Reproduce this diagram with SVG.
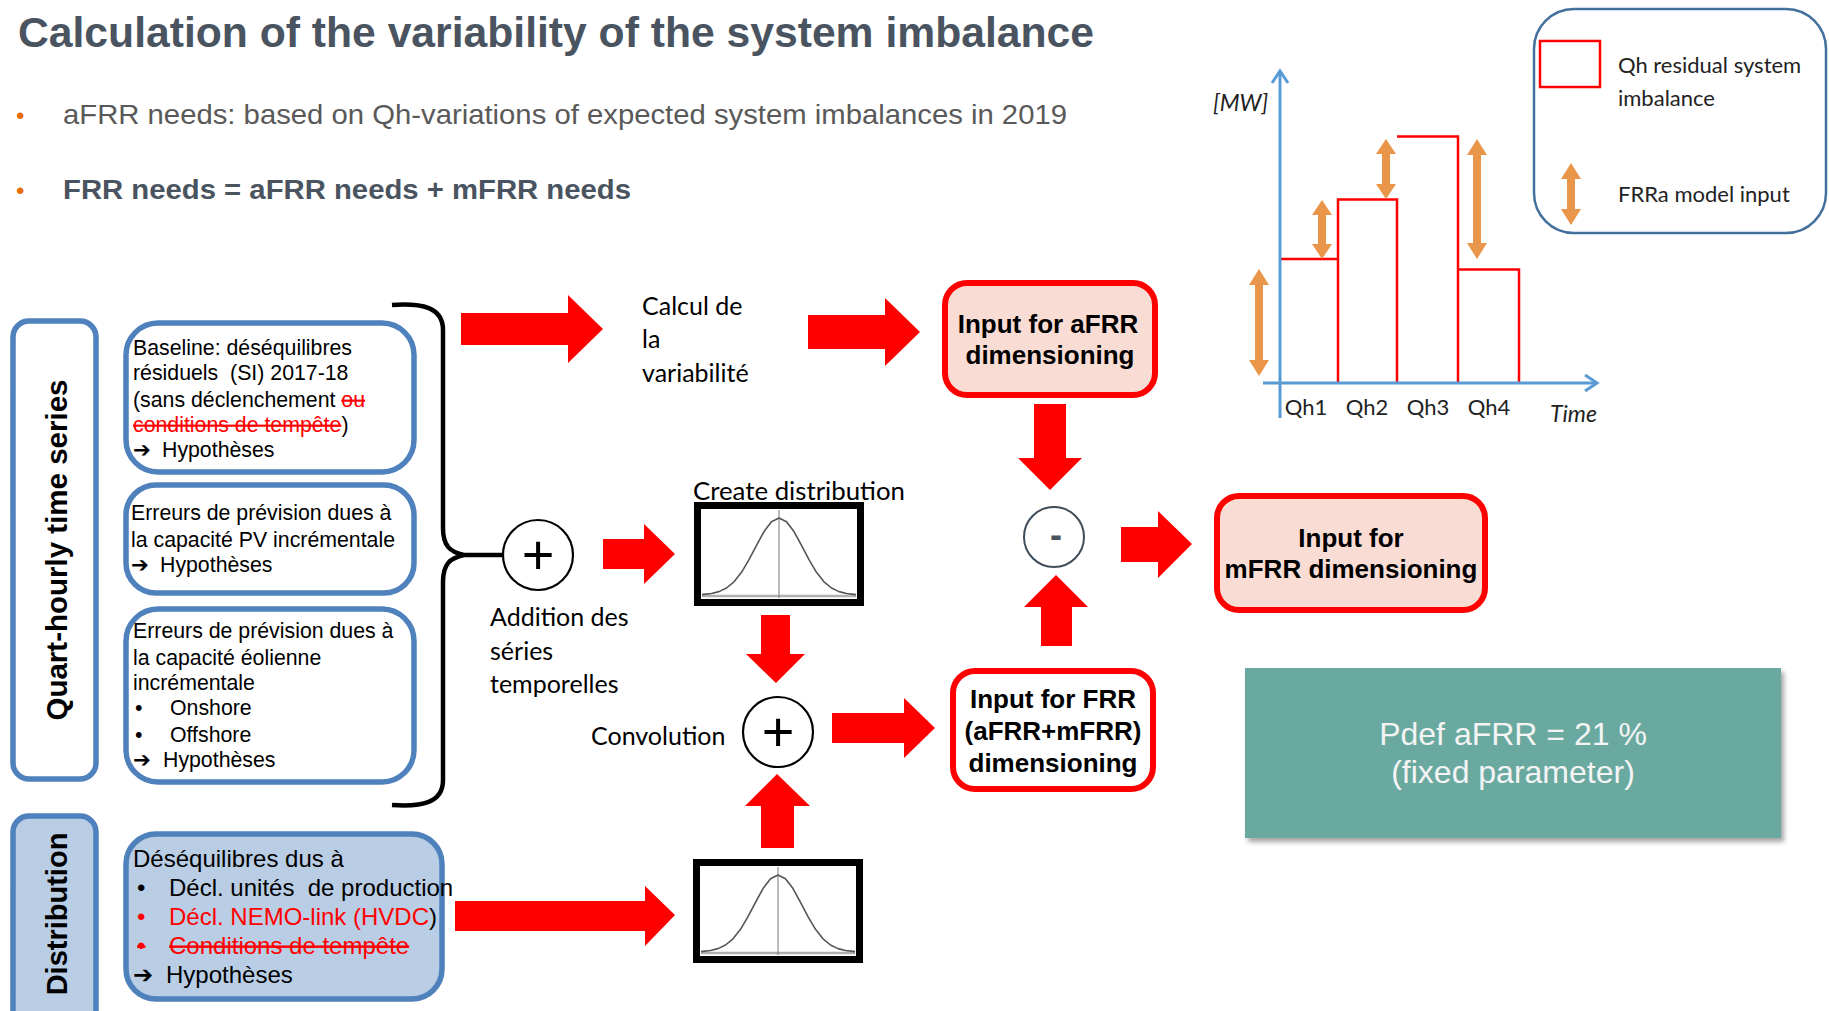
<svg xmlns="http://www.w3.org/2000/svg" width="1829" height="1011" viewBox="0 0 1829 1011">
<style>
.t{font-family:"Liberation Sans",Arial,sans-serif}
.c{font-family:Lato,"Open Sans",sans-serif}
.blue{fill:#fff;stroke:#4f81bd;stroke-width:5.5}
.lb{fill:#b9cde5;stroke:#4f81bd;stroke-width:5.5}
.redbox{stroke:#ff0000;stroke-width:6}
.arr{fill:#ff0000}
.ora{fill:#e9954a}
.strike{fill:#ff0000;text-decoration:line-through}
.bx{font-size:21.3px;fill:#000}
.ar{font-family:"DejaVu Sans",sans-serif;font-weight:bold}
.bb{font-size:26px;font-weight:bold;fill:#000;text-anchor:middle}
.cl{font-size:25px;fill:#000}
.ax{stroke:#5b9bd5;stroke-width:3;fill:none}
.lg{font-size:22px;fill:#222}
</style>
<defs>
<g id="bell">
<rect x="3.5" y="3.5" width="163" height="97" fill="#fff" stroke="#000" stroke-width="7"/>
<line x1="8" y1="94" x2="162" y2="94" stroke="#b0b0b0" stroke-width="2.5"/>
<line x1="85" y1="8" x2="85" y2="96" stroke="#777" stroke-width="1"/>
<polyline fill="none" stroke="#555" stroke-width="1.6" stroke-linejoin="round" points="8,92.6 10,92.4 17.5,91.5 25,89.6 32.5,86 40,79.8 47.5,70.3 55,57.7 62.5,43.4 70,29.6 77.5,19.7 85,16 92.5,19.7 100,29.6 107.5,43.4 115,57.7 122.5,70.3 130,79.8 137.5,86 145,89.6 152.5,91.5 160,92.4 162,92.6"/>
</g>
<filter id="sh" x="-5%" y="-5%" width="115%" height="120%">
<feDropShadow dx="3" dy="4" stdDeviation="2.5" flood-color="#000" flood-opacity="0.35"/>
</filter>
</defs>
<rect width="1829" height="1011" fill="#fff"/>

<g id="title">
<text class="t" x="18" y="47" font-size="42.5" font-weight="bold" fill="#4a5460" textLength="1076" lengthAdjust="spacingAndGlyphs">Calculation of the variability of the system imbalance</text>
</g>
<g id="bullets">
<text class="t" x="16" y="124" font-size="24" fill="#e46c0a">•</text>
<text class="t" x="63" y="124" font-size="27.5" fill="#595959" textLength="1004" lengthAdjust="spacingAndGlyphs">aFRR needs: based on Qh-variations of expected system imbalances in 2019</text>
<text class="t" x="16" y="199" font-size="24" fill="#e46c0a">•</text>
<text class="t" x="63" y="199" font-size="27.5" font-weight="bold" fill="#4a5460" textLength="568" lengthAdjust="spacingAndGlyphs">FRR needs = aFRR needs + mFRR needs</text>
</g>

<g id="qh-label">
<rect x="13" y="321" width="83" height="458" rx="16" class="blue"/>
<text class="t" transform="translate(67,550) rotate(-90)" font-size="29.5" font-weight="bold" text-anchor="middle" fill="#000">Quart-hourly time series</text>
</g>
<g id="dist-label">
<rect x="13" y="816" width="83" height="230" rx="16" class="lb"/>
<text class="t" transform="translate(67,914) rotate(-90)" font-size="29" font-weight="bold" text-anchor="middle" fill="#000">Distribution</text>
</g>

<g id="box-baseline">
<rect x="126" y="323" width="288" height="149" rx="32" class="blue"/>
<text class="t bx" x="133" y="355">Baseline: déséquilibres</text>
<text class="t bx" x="133" y="380" xml:space="preserve">résiduels  (SI) 2017-18</text>
<text class="t bx" x="133" y="407">(sans déclenchement <tspan class="strike">ou</tspan></text>
<text class="t bx" x="133" y="432"><tspan class="strike">conditions de tempête</tspan>)</text>
<text class="t bx" x="133" y="457"><tspan class="ar">➔</tspan><tspan x="162">Hypothèses</tspan></text>
</g>
<g id="box-pv">
<rect x="126" y="485" width="288" height="108" rx="30" class="blue"/>
<text class="t bx" x="131" y="520">Erreurs de prévision dues à</text>
<text class="t bx" x="131" y="547">la capacité PV incrémentale</text>
<text class="t bx" x="131" y="572"><tspan class="ar">➔</tspan><tspan x="160">Hypothèses</tspan></text>
</g>
<g id="box-wind">
<rect x="126" y="609" width="288" height="173" rx="32" class="blue"/>
<text class="t bx" x="133" y="638">Erreurs de prévision dues à</text>
<text class="t bx" x="133" y="665">la capacité éolienne</text>
<text class="t bx" x="133" y="690">incrémentale</text>
<text class="t bx" x="135" y="715">•<tspan x="170">Onshore</tspan></text>
<text class="t bx" x="135" y="742">•<tspan x="170">Offshore</tspan></text>
<text class="t bx" x="133" y="767"><tspan class="ar">➔</tspan><tspan x="163">Hypothèses</tspan></text>
</g>
<g id="box-dist">
<rect x="126" y="834" width="316" height="165" rx="30" class="lb"/>
<text class="t" x="133" y="867" font-size="24">Déséquilibres dus à</text>
<text class="t" x="137" y="896" font-size="24" xml:space="preserve">•<tspan x="169">Décl. unités  de production</tspan></text>
<text class="t" x="137" y="925" font-size="24" fill="#ff0000">•<tspan x="169">Décl. NEMO-link (HVDC</tspan><tspan fill="#000">)</tspan></text>
<text class="t" x="137" y="954" font-size="24" fill="#ff0000" text-decoration="line-through">•<tspan x="169">Conditions de tempête</tspan></text>
<text class="t" x="133" y="983" font-size="24"><tspan class="ar">➔</tspan><tspan x="166">Hypothèses</tspan></text>
</g>

<g id="connectors">
<path d="M392,305 C422,303 443,307 443,330 L443,528 C443,546 450,552 464,555 L502,555 M464,555 C450,558 443,564 443,582 L443,780 C443,803 422,807 392,805" fill="none" stroke="#000" stroke-width="4.5"/>
<polygon class="arr" points="461,313 568,313 568,295 603,329 568,363 568,345 461,345"/>
<polygon class="arr" points="808,315 885,315 885,298 920,332 885,366 885,349 808,349"/>
<polygon class="arr" points="1034,404 1066,404 1066,458 1082,458 1050,490 1018,458 1034,458"/>
<polygon class="arr" points="1121,527 1158,527 1158,511 1192,544 1158,578 1158,562 1121,562"/>
<polygon class="arr" points="1041,646 1041,607 1024,607 1056,575 1088,607 1072,607 1072,646"/>
<polygon class="arr" points="603,539 644,539 644,524 675,554 644,584 644,569 603,569"/>
<polygon class="arr" points="761,615 790,615 790,654 805,654 776,683 746,654 761,654"/>
<polygon class="arr" points="832,713 904,713 904,698 935,728 904,758 904,743 832,743"/>
<polygon class="arr" points="761,848 761,806 745,806 777,774 810,806 794,806 794,848"/>
<polygon class="arr" points="455,901 645,901 645,886 675,915 645,946 645,931 455,931"/>
</g>

<g id="calcul">
<text class="c cl" x="642" y="315">Calcul de</text>
<text class="c cl" x="642" y="348">la</text>
<text class="c cl" x="642" y="382">variabilité</text>
</g>
<g id="addition">
<circle cx="538" cy="555" r="35" fill="#fff" stroke="#000" stroke-width="2.2"/>
<text class="t" x="538" y="574" font-size="56" text-anchor="middle">+</text>
<text class="c cl" x="490" y="626">Addition des</text>
<text class="c cl" x="490" y="660">séries</text>
<text class="c cl" x="490" y="693">temporelles</text>
</g>
<g id="create-dist">
<text class="c cl" x="693" y="500" textLength="212" lengthAdjust="spacingAndGlyphs">Create distribution</text>
<use href="#bell" x="694" y="502"/>
</g>
<g id="convolution">
<circle cx="778" cy="732" r="35" fill="#fff" stroke="#000" stroke-width="2.2"/>
<text class="t" x="778" y="751" font-size="56" text-anchor="middle">+</text>
<text class="c cl" x="591" y="745">Convolution</text>
</g>
<g id="dist-bottom">
<use href="#bell" x="693" y="859"/>
</g>
<g id="input-afrr">
<rect x="945" y="283" width="210" height="112" rx="22" fill="#f9dcd3" class="redbox"/>
<text class="t bb" x="1048" y="333">Input for aFRR</text>
<text class="t bb" x="1050" y="364">dimensioning</text>
</g>
<g id="minus">
<circle cx="1054" cy="537" r="30" fill="#fff" stroke="#3f4d5a" stroke-width="2"/>
<text class="t" x="1056" y="547" font-size="36" font-weight="bold" text-anchor="middle" fill="#4a5460">-</text>
</g>
<g id="input-mfrr">
<rect x="1217" y="496" width="268" height="114" rx="22" fill="#f9dcd3" class="redbox"/>
<text class="t bb" x="1351" y="547">Input for</text>
<text class="t bb" x="1351" y="578">mFRR dimensioning</text>
</g>
<g id="input-frr">
<rect x="953" y="671" width="200" height="118" rx="22" fill="#fff" class="redbox"/>
<text class="t bb" x="1053" y="708">Input for FRR</text>
<text class="t bb" x="1053" y="740">(aFRR+mFRR)</text>
<text class="t bb" x="1053" y="772">dimensioning</text>
</g>
<g id="pdef">
<rect x="1245" y="668" width="536" height="170" fill="#6aa9a0" filter="url(#sh)"/>
<text class="t" x="1513" y="745" font-size="32" fill="#f4f4f4" text-anchor="middle">Pdef aFRR = 21 %</text>
<text class="t" x="1513" y="783" font-size="32" fill="#f4f4f4" text-anchor="middle">(fixed parameter)</text>
</g>

<g id="chart">
<path d="M1280,259 H1338 V383 M1338,383 V199.5 H1397 V383 M1397,136.5 H1458 V383 M1458,269.5 H1519 V383" fill="none" stroke="#ff0000" stroke-width="2.5"/>
<line class="ax" x1="1280" y1="71" x2="1280" y2="418"/>
<line class="ax" x1="1263" y1="383" x2="1597" y2="383"/>
<polyline class="ax" points="1272,83 1280,71 1288,83"/>
<polyline class="ax" points="1585,375 1597,383 1585,391"/>
<polygon class="ora" points="1259,269 1269,285 1263,285 1263,360 1269,360 1259,376 1249,360 1255,360 1255,285 1249,285"/>
<polygon class="ora" points="1322,200 1332,215 1326,215 1326,244 1332,244 1322,259 1312,244 1318,244 1318,215 1312,215"/>
<polygon class="ora" points="1386,139 1396,154 1390,154 1390,184 1396,184 1386,199 1376,184 1382,184 1382,154 1376,154"/>
<polygon class="ora" points="1477,139 1487,155 1481,155 1481,243 1487,243 1477,259 1467,243 1473,243 1473,155 1467,155"/>
<text class="c" x="1213" y="111" font-size="23" font-style="italic" fill="#222">[MW]</text>
<text class="c lg" x="1306" y="415" text-anchor="middle" font-size="21">Qh1</text>
<text class="c lg" x="1367" y="415" text-anchor="middle" font-size="21">Qh2</text>
<text class="c lg" x="1428" y="415" text-anchor="middle" font-size="21">Qh3</text>
<text class="c lg" x="1489" y="415" text-anchor="middle" font-size="21">Qh4</text>
<text class="c" x="1550" y="422" font-size="23" font-style="italic" fill="#222">Time</text>
</g>
<g id="legend">
<rect x="1534" y="9" width="292" height="224" rx="40" fill="#fff" stroke="#41719c" stroke-width="2.5"/>
<rect x="1540" y="41" width="60" height="46" fill="#fff" stroke="#ff0000" stroke-width="2.5"/>
<polygon class="ora" points="1571,163 1581,179 1575,179 1575,209 1581,209 1571,225 1561,209 1567,209 1567,179 1561,179"/>
<text class="c lg" x="1618" y="73">Qh residual system</text>
<text class="c lg" x="1618" y="106">imbalance</text>
<text class="c lg" x="1618" y="202">FRRa model input</text>
</g>
</svg>
